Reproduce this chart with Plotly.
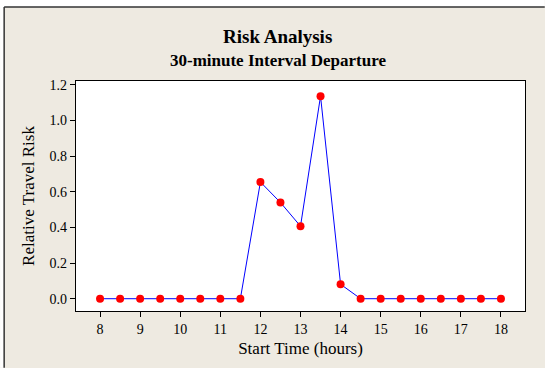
import plotly.graph_objects as go

# start time (hours) and relative travel risk
start_hours = [8, 8.5, 9, 9.5, 10, 10.5, 11, 11.5, 12, 12.5, 13, 13.5, 14,
               14.5, 15, 15.5, 16, 16.5, 17, 17.5, 18]
risk = [0, 0, 0, 0, 0, 0, 0, 0, 0.655, 0.54, 0.407, 1.137, 0.081,
        0, 0, 0, 0, 0, 0, 0, 0]
x_ticks = [8, 9, 10, 11, 12, 13, 14, 15, 16, 17, 18]
y_ticks = [0.0, 0.2, 0.4, 0.6, 0.8, 1.0, 1.2]

BG = "#EEEAE1"
SERIF = "Liberation Serif, Times New Roman, serif"

fig = go.Figure()
fig.add_trace(go.Scatter(
    x=start_hours, y=risk, mode="lines+markers",
    line=dict(color="#0000FF", width=1),
    marker=dict(color="#FF0000", size=8),
    showlegend=False,
))

axis_common = dict(
    showline=True, linecolor="black", linewidth=1.2, mirror=True,
    ticks="outside", ticklen=5, tickcolor="black", tickwidth=1,
    showgrid=False, zeroline=False,
    tickfont=dict(family=SERIF, size=14, color="black"),
)

fig.update_xaxes(range=[7.4, 18.6], tickvals=x_ticks,
                 title=dict(text="Start Time (hours)", standoff=6,
                            font=dict(family=SERIF, size=17, color="black")),
                 **axis_common)
fig.update_yaxes(range=[-0.069, 1.222], tickvals=y_ticks, tickformat=".1f",
                 title=dict(text="Relative Travel Risk", standoff=10,
                            font=dict(family=SERIF, size=17, color="black")),
                 **axis_common)

# outer frame: white strip above/left, dark border line (kept inside the page)
fig.add_shape(type="rect", xref="paper", yref="paper", layer="below",
              x0=-0.169, x1=1.044, y0=1.322, y1=1.352,
              fillcolor="white", line_width=0)
fig.add_shape(type="rect", xref="paper", yref="paper", layer="below",
              x0=-0.169, x1=-0.16, y0=-0.247, y1=1.352,
              fillcolor="white", line_width=0)
fig.add_shape(type="line", xref="paper", yref="paper",
              x0=-0.16, x1=1.044, y0=1.322, y1=1.322,
              line=dict(color="#333333", width=1.5))
fig.add_shape(type="line", xref="paper", yref="paper",
              x0=-0.16, x1=-0.16, y0=-0.247, y1=1.322,
              line=dict(color="#333333", width=1.5))

fig.add_annotation(text="<b>Risk Analysis</b>", xref="paper", yref="paper",
                   x=0.449, y=1.193, showarrow=False, yanchor="middle",
                   font=dict(family=SERIF, size=19, color="black"))
fig.add_annotation(text="<b>30-minute Interval Departure</b>", xref="paper", yref="paper",
                   x=0.449, y=1.089, showarrow=False, yanchor="middle",
                   font=dict(family=SERIF, size=17, color="black"))

fig.update_layout(
    width=545, height=368,
    margin=dict(l=76, r=20, t=81, b=57),
    paper_bgcolor=BG, plot_bgcolor="white",
    font=dict(family=SERIF, color="black"),
)

fig.write_html("out.html", config={"displayModeBar": False},
               post_script="document.body.style.margin='0';")
